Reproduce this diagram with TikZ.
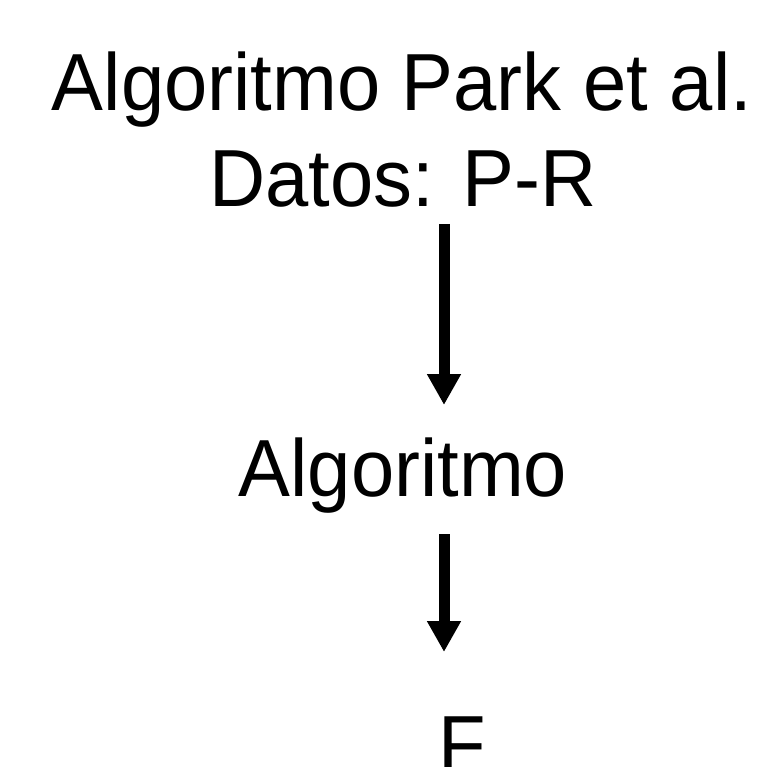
\documentclass[tikz,border=0pt]{standalone}
\usepackage{fontspec}
\setmainfont{Liberation Sans}[FakeStretch=0.96]
\usetikzlibrary{arrows.meta}
\tikzset{
  label/.style={inner sep=0pt, anchor=base, font=\fontsize{81pt}{81pt}\selectfont},
  flow/.style={line width=11pt, -{Triangle[width=32pt,length=31pt]}}
}
\begin{document}
\begin{tikzpicture}[x=1pt, y=-1pt]
  \useasboundingbox (0,0) rectangle (773,767);
  % stacked labels
  \node[label] (title) at (402,111) {Algoritmo Park et al.};
  \node[label] (data)  at (403,207) {Datos: P-R};
  \node[label] (algo)  at (403,496) {Algoritmo};
  \node[label] (out)   at (462,772) {F};
  % arrow end points
  \coordinate (a1s) at (444,224);
  \coordinate (a1e) at (444,405);
  \coordinate (a2s) at (444,534);
  \coordinate (a2e) at (444,652);
  \draw[flow] (a1s) -- (a1e);
  \draw[flow] (a2s) -- (a2e);
\end{tikzpicture}
\end{document}
